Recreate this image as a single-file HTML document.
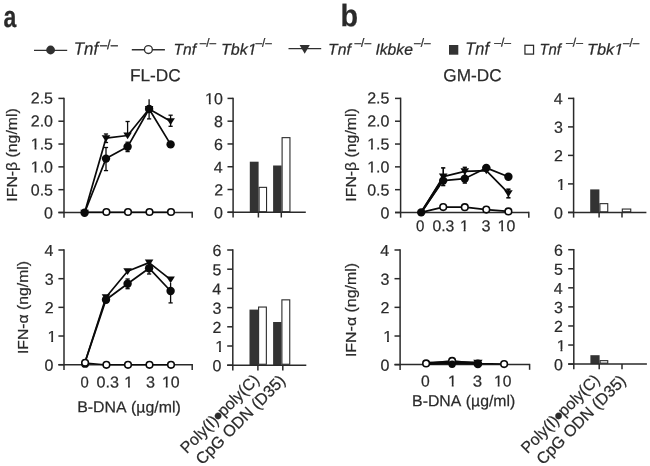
<!DOCTYPE html>
<html><head><meta charset="utf-8"><title>figure</title>
<style>
html,body{margin:0;padding:0;background:#fff;}
svg{display:block;will-change:transform;font-family:"Liberation Sans",sans-serif;font-kerning:none;}
</style></head><body>
<svg width="650" height="466" viewBox="0 0 650 466">
<rect width="650" height="466" fill="#fff"/>
<text transform="matrix(0.7689 0.001 0 1 3.62 27.00)" font-size="30" text-anchor="start" fill="#2a2a2a" stroke="#2a2a2a" stroke-width="0.22" font-weight="bold">a</text>
<text transform="matrix(0.9282 0.001 0 1 340.60 26.30)" font-size="31" text-anchor="start" fill="#2a2a2a" stroke="#2a2a2a" stroke-width="0.22" font-weight="bold">b</text>
<line x1="34.00" y1="50.30" x2="67.20" y2="50.30" stroke="#303030" stroke-width="1.35"/>
<circle cx="50.6" cy="50.0" r="4.4" fill="#303030"/>
<text transform="matrix(0.9404 0.001 0 1 73.78 54.85)" font-size="18" text-anchor="start" fill="#2a2a2a" stroke="#2a2a2a" stroke-width="0.22" font-style="italic">Tnf</text>
<text transform="matrix(0.9853 0.001 0 1 100.00 49.01)" font-size="13" text-anchor="start" fill="#2a2a2a" stroke="#2a2a2a" stroke-width="0.22">–/–</text>
<line x1="131.80" y1="49.70" x2="164.90" y2="49.70" stroke="#303030" stroke-width="1.35"/>
<circle cx="148.4" cy="49.5" r="3.95" fill="#fff" stroke="#303030" stroke-width="1.35"/>
<text transform="matrix(0.9880 0.001 0 1 173.50 54.65)" font-size="15.8" text-anchor="start" fill="#2a2a2a" stroke="#2a2a2a" stroke-width="0.22" font-style="italic">Tnf</text>
<text transform="matrix(0.9895 0.001 0 1 199.70 46.74)" font-size="12" text-anchor="start" fill="#2a2a2a" stroke="#2a2a2a" stroke-width="0.22">–/–</text>
<text transform="matrix(1.0156 0.001 0 1 221.06 54.65)" font-size="15.8" text-anchor="start" fill="#2a2a2a" stroke="#2a2a2a" stroke-width="0.22" font-style="italic">Tbk1</text>
<polygon points="247.02,56.27 247.62,52.57 251.20,52.57 250.60,56.27" fill="#fff"/>
<polygon points="253.12,52.57 256.57,52.57 255.97,56.27 252.52,56.27" fill="#fff"/>
<text transform="matrix(0.9835 0.001 0 1 255.40 46.74)" font-size="12" text-anchor="start" fill="#2a2a2a" stroke="#2a2a2a" stroke-width="0.22">–/–</text>
<line x1="288.50" y1="48.60" x2="321.20" y2="48.60" stroke="#303030" stroke-width="1.35"/>
<path d="M299.6 45.1H309.8L304.7 53.8Z" fill="#303030"/>
<text transform="matrix(0.9967 0.001 0 1 328.09 54.65)" font-size="15.8" text-anchor="start" fill="#2a2a2a" stroke="#2a2a2a" stroke-width="0.22" font-style="italic">Tnf</text>
<text transform="matrix(1.0074 0.001 0 1 354.40 46.74)" font-size="12" text-anchor="start" fill="#2a2a2a" stroke="#2a2a2a" stroke-width="0.22">–/–</text>
<text transform="matrix(0.9931 0.001 0 1 375.38 54.65)" font-size="15.8" text-anchor="start" fill="#2a2a2a" stroke="#2a2a2a" stroke-width="0.22" font-style="italic">Ikbke</text>
<text transform="matrix(0.9955 0.001 0 1 414.00 46.74)" font-size="12" text-anchor="start" fill="#2a2a2a" stroke="#2a2a2a" stroke-width="0.22">–/–</text>
<rect x="449.0" y="45.0" width="9.3" height="9.7" fill="#333333"/>
<text transform="matrix(0.9147 0.001 0 1 465.33 54.70)" font-size="17.9" text-anchor="start" fill="#2a2a2a" stroke="#2a2a2a" stroke-width="0.22" font-style="italic">Tnf</text>
<text transform="matrix(1.0134 0.001 0 1 494.20 46.54)" font-size="12" text-anchor="start" fill="#2a2a2a" stroke="#2a2a2a" stroke-width="0.22">–/–</text>
<rect x="524.95" y="45.3" width="8.6" height="8.8" fill="#fff" stroke="#2a2a2a" stroke-width="1.25"/>
<text transform="matrix(0.9440 0.001 0 1 539.46 54.65)" font-size="15.8" text-anchor="start" fill="#2a2a2a" stroke="#2a2a2a" stroke-width="0.22" font-style="italic">Tnf</text>
<text transform="matrix(1.0134 0.001 0 1 566.00 46.54)" font-size="12" text-anchor="start" fill="#2a2a2a" stroke="#2a2a2a" stroke-width="0.22">–/–</text>
<text transform="matrix(1.0377 0.001 0 1 586.93 54.65)" font-size="15.8" text-anchor="start" fill="#2a2a2a" stroke="#2a2a2a" stroke-width="0.22" font-style="italic">Tbk1</text>
<polygon points="613.46,56.27 614.07,52.57 617.72,52.57 617.11,56.27" fill="#fff"/>
<polygon points="619.69,52.57 623.22,52.57 622.60,56.27 619.08,56.27" fill="#fff"/>
<text transform="matrix(0.9775 0.001 0 1 622.90 46.74)" font-size="12" text-anchor="start" fill="#2a2a2a" stroke="#2a2a2a" stroke-width="0.22">–/–</text>
<text transform="matrix(0.9931 0.001 0 1 129.88 81.15)" font-size="17.4" text-anchor="start" fill="#2a2a2a" stroke="#2a2a2a" stroke-width="0.22">FL-DC</text>
<text transform="matrix(0.9836 0.001 0 1 443.33 81.15)" font-size="17.5" text-anchor="start" fill="#2a2a2a" stroke="#2a2a2a" stroke-width="0.22">GM-DC</text>
<line x1="64.00" y1="97.65" x2="64.00" y2="217.70" stroke="#2a2a2a" stroke-width="1.5"/>
<line x1="58.40" y1="212.50" x2="64.00" y2="212.50" stroke="#2a2a2a" stroke-width="1.5"/>
<text transform="matrix(1.0000 0.001 0 1 44.08 218.50)" font-size="16.0" text-anchor="start" fill="#2a2a2a" stroke="#2a2a2a" stroke-width="0.22">0</text>
<line x1="58.40" y1="189.68" x2="64.00" y2="189.68" stroke="#2a2a2a" stroke-width="1.5"/>
<text transform="matrix(1.0000 0.001 0 1 30.78 195.52)" font-size="16.0" text-anchor="start" fill="#2a2a2a" stroke="#2a2a2a" stroke-width="0.22">0.5</text>
<line x1="58.40" y1="166.86" x2="64.00" y2="166.86" stroke="#2a2a2a" stroke-width="1.5"/>
<text transform="matrix(1.0000 0.001 0 1 30.73 172.54)" font-size="16.0" text-anchor="start" fill="#2a2a2a" stroke="#2a2a2a" stroke-width="0.22">1.0</text>
<polygon points="30.95,174.16 30.95,170.44 34.51,170.44 34.51,174.16" fill="#fff"/>
<polygon points="36.42,170.44 39.85,170.44 39.85,174.16 36.42,174.16" fill="#fff"/>
<line x1="58.40" y1="144.04" x2="64.00" y2="144.04" stroke="#2a2a2a" stroke-width="1.5"/>
<text transform="matrix(1.0000 0.001 0 1 30.78 149.56)" font-size="16.0" text-anchor="start" fill="#2a2a2a" stroke="#2a2a2a" stroke-width="0.22">1.5</text>
<polygon points="31.00,151.18 31.00,147.46 34.55,147.46 34.55,151.18" fill="#fff"/>
<polygon points="36.47,147.46 39.90,147.46 39.90,151.18 36.47,151.18" fill="#fff"/>
<line x1="58.40" y1="121.22" x2="64.00" y2="121.22" stroke="#2a2a2a" stroke-width="1.5"/>
<text transform="matrix(1.0000 0.001 0 1 30.73 126.58)" font-size="16.0" text-anchor="start" fill="#2a2a2a" stroke="#2a2a2a" stroke-width="0.22">2.0</text>
<line x1="58.40" y1="98.40" x2="64.00" y2="98.40" stroke="#2a2a2a" stroke-width="1.5"/>
<text transform="matrix(1.0000 0.001 0 1 30.78 103.60)" font-size="16.0" text-anchor="start" fill="#2a2a2a" stroke="#2a2a2a" stroke-width="0.22">2.5</text>
<line x1="58.40" y1="212.50" x2="192.20" y2="212.50" stroke="#2a2a2a" stroke-width="1.5"/>
<line x1="192.20" y1="211.75" x2="192.20" y2="217.70" stroke="#2a2a2a" stroke-width="1.5"/>
<line x1="106.00" y1="147.50" x2="106.00" y2="170.60" stroke="#0a0a0a" stroke-width="1.3"/>
<line x1="103.90" y1="147.50" x2="108.10" y2="147.50" stroke="#0a0a0a" stroke-width="1.3"/>
<line x1="103.90" y1="170.60" x2="108.10" y2="170.60" stroke="#0a0a0a" stroke-width="1.3"/>
<line x1="106.00" y1="134.00" x2="106.00" y2="142.50" stroke="#0a0a0a" stroke-width="1.3"/>
<line x1="103.90" y1="134.00" x2="108.10" y2="134.00" stroke="#0a0a0a" stroke-width="1.3"/>
<line x1="103.90" y1="142.50" x2="108.10" y2="142.50" stroke="#0a0a0a" stroke-width="1.3"/>
<line x1="127.60" y1="121.50" x2="127.60" y2="135.00" stroke="#0a0a0a" stroke-width="1.3"/>
<line x1="125.50" y1="121.50" x2="129.70" y2="121.50" stroke="#0a0a0a" stroke-width="1.3"/>
<line x1="127.60" y1="142.20" x2="127.60" y2="151.60" stroke="#0a0a0a" stroke-width="1.3"/>
<line x1="125.50" y1="142.20" x2="129.70" y2="142.20" stroke="#0a0a0a" stroke-width="1.3"/>
<line x1="125.50" y1="151.60" x2="129.70" y2="151.60" stroke="#0a0a0a" stroke-width="1.3"/>
<line x1="149.10" y1="99.30" x2="149.10" y2="118.90" stroke="#0a0a0a" stroke-width="1.3"/>
<line x1="147.00" y1="118.90" x2="151.20" y2="118.90" stroke="#0a0a0a" stroke-width="1.3"/>
<line x1="170.60" y1="115.20" x2="170.60" y2="126.30" stroke="#0a0a0a" stroke-width="1.3"/>
<line x1="168.50" y1="115.20" x2="172.70" y2="115.20" stroke="#0a0a0a" stroke-width="1.3"/>
<line x1="168.50" y1="126.30" x2="172.70" y2="126.30" stroke="#0a0a0a" stroke-width="1.3"/>
<polyline points="84.60,212.80 106.00,138.20 127.60,135.50 149.10,109.00 170.60,121.20" fill="none" stroke="#0a0a0a" stroke-width="1.7" stroke-linejoin="round"/>
<polyline points="84.60,212.80 106.00,158.60 127.60,146.80 149.10,109.00 170.60,144.40" fill="none" stroke="#0a0a0a" stroke-width="1.7" stroke-linejoin="round"/>
<polyline points="84.60,212.30 171.00,212.30" fill="none" stroke="#0a0a0a" stroke-width="1.4" stroke-linejoin="round"/>
<path d="M80.30 209.74H88.90L84.60 216.54Z" fill="#0a0a0a"/>
<path d="M101.70 135.14H110.30L106.00 141.94Z" fill="#0a0a0a"/>
<path d="M123.30 132.44H131.90L127.60 139.24Z" fill="#0a0a0a"/>
<path d="M144.80 105.94H153.40L149.10 112.74Z" fill="#0a0a0a"/>
<path d="M166.30 118.14H174.90L170.60 124.94Z" fill="#0a0a0a"/>
<circle cx="84.60" cy="212.80" r="4.2" fill="#0a0a0a"/>
<circle cx="106.00" cy="158.60" r="4.2" fill="#0a0a0a"/>
<circle cx="127.60" cy="146.80" r="4.2" fill="#0a0a0a"/>
<circle cx="149.10" cy="109.00" r="4.2" fill="#0a0a0a"/>
<circle cx="170.60" cy="144.40" r="4.2" fill="#0a0a0a"/>
<circle cx="106.40" cy="212.00" r="3.3" fill="#fff" stroke="#0a0a0a" stroke-width="1.6"/>
<circle cx="128.00" cy="212.00" r="3.3" fill="#fff" stroke="#0a0a0a" stroke-width="1.6"/>
<circle cx="149.50" cy="212.00" r="3.3" fill="#fff" stroke="#0a0a0a" stroke-width="1.6"/>
<circle cx="171.00" cy="212.00" r="3.3" fill="#fff" stroke="#0a0a0a" stroke-width="1.6"/>
<text transform="translate(17.00,201.66) rotate(-90) scale(1.0544,1)" font-size="15.0" text-anchor="start" fill="#2a2a2a" stroke="#2a2a2a" stroke-width="0.22">IFN-β (ng/ml)</text>
<line x1="64.00" y1="249.25" x2="64.00" y2="369.90" stroke="#2a2a2a" stroke-width="1.5"/>
<line x1="58.40" y1="364.70" x2="64.00" y2="364.70" stroke="#2a2a2a" stroke-width="1.5"/>
<text transform="matrix(1.0000 0.001 0 1 44.58 370.70)" font-size="16.0" text-anchor="start" fill="#2a2a2a" stroke="#2a2a2a" stroke-width="0.22">0</text>
<line x1="58.40" y1="336.02" x2="64.00" y2="336.02" stroke="#2a2a2a" stroke-width="1.5"/>
<text transform="matrix(1.0000 0.001 0 1 47.41 342.02)" font-size="16.0" text-anchor="start" fill="#2a2a2a" stroke="#2a2a2a" stroke-width="0.22">1</text>
<polygon points="47.63,343.64 47.63,339.93 51.19,339.93 51.19,343.64" fill="#fff"/>
<polygon points="53.10,339.93 56.53,339.93 56.53,343.64 53.10,343.64" fill="#fff"/>
<line x1="58.40" y1="307.35" x2="64.00" y2="307.35" stroke="#2a2a2a" stroke-width="1.5"/>
<text transform="matrix(1.0000 0.001 0 1 44.76 313.35)" font-size="16.0" text-anchor="start" fill="#2a2a2a" stroke="#2a2a2a" stroke-width="0.22">2</text>
<line x1="58.40" y1="278.68" x2="64.00" y2="278.68" stroke="#2a2a2a" stroke-width="1.5"/>
<text transform="matrix(1.0000 0.001 0 1 44.65 284.68)" font-size="16.0" text-anchor="start" fill="#2a2a2a" stroke="#2a2a2a" stroke-width="0.22">3</text>
<line x1="58.40" y1="250.00" x2="64.00" y2="250.00" stroke="#2a2a2a" stroke-width="1.5"/>
<text transform="matrix(1.0000 0.001 0 1 44.42 256.00)" font-size="16.0" text-anchor="start" fill="#2a2a2a" stroke="#2a2a2a" stroke-width="0.22">4</text>
<line x1="58.40" y1="364.70" x2="192.20" y2="364.70" stroke="#2a2a2a" stroke-width="1.5"/>
<line x1="192.20" y1="363.95" x2="192.20" y2="369.90" stroke="#2a2a2a" stroke-width="1.5"/>
<line x1="127.60" y1="279.00" x2="127.60" y2="288.70" stroke="#0a0a0a" stroke-width="1.3"/>
<line x1="125.50" y1="279.00" x2="129.70" y2="279.00" stroke="#0a0a0a" stroke-width="1.3"/>
<line x1="125.50" y1="288.70" x2="129.70" y2="288.70" stroke="#0a0a0a" stroke-width="1.3"/>
<line x1="149.10" y1="262.00" x2="149.10" y2="274.00" stroke="#0a0a0a" stroke-width="1.3"/>
<line x1="147.00" y1="274.00" x2="151.20" y2="274.00" stroke="#0a0a0a" stroke-width="1.3"/>
<line x1="170.60" y1="283.00" x2="170.60" y2="302.90" stroke="#0a0a0a" stroke-width="1.3"/>
<line x1="168.50" y1="302.90" x2="172.70" y2="302.90" stroke="#0a0a0a" stroke-width="1.3"/>
<polyline points="84.60,363.40 106.00,297.20 127.60,271.30 149.10,262.60 170.60,279.60" fill="none" stroke="#0a0a0a" stroke-width="1.7" stroke-linejoin="round"/>
<polyline points="84.60,363.40 106.00,299.80 127.60,283.70 149.10,268.20 170.60,291.00" fill="none" stroke="#0a0a0a" stroke-width="1.7" stroke-linejoin="round"/>
<polyline points="85.10,362.90 104.00,364.80 171.00,364.80" fill="none" stroke="#0a0a0a" stroke-width="1.4" stroke-linejoin="round"/>
<path d="M101.70 294.14H110.30L106.00 300.94Z" fill="#0a0a0a"/>
<path d="M123.30 268.24H131.90L127.60 275.04Z" fill="#0a0a0a"/>
<path d="M144.80 259.54H153.40L149.10 266.34Z" fill="#0a0a0a"/>
<path d="M166.30 276.54H174.90L170.60 283.34Z" fill="#0a0a0a"/>
<circle cx="106.00" cy="299.80" r="4.2" fill="#0a0a0a"/>
<circle cx="127.60" cy="283.70" r="4.2" fill="#0a0a0a"/>
<circle cx="149.10" cy="268.20" r="4.2" fill="#0a0a0a"/>
<circle cx="170.60" cy="291.00" r="4.2" fill="#0a0a0a"/>
<circle cx="85.10" cy="363.90" r="3.9" fill="#0a0a0a"/>
<circle cx="85.10" cy="362.80" r="3.3" fill="#fff" stroke="#0a0a0a" stroke-width="1.6"/>
<circle cx="106.40" cy="364.80" r="3.3" fill="#fff" stroke="#0a0a0a" stroke-width="1.6"/>
<circle cx="128.00" cy="364.80" r="3.3" fill="#fff" stroke="#0a0a0a" stroke-width="1.6"/>
<circle cx="149.50" cy="364.80" r="3.3" fill="#fff" stroke="#0a0a0a" stroke-width="1.6"/>
<circle cx="171.00" cy="364.80" r="3.3" fill="#fff" stroke="#0a0a0a" stroke-width="1.6"/>
<text transform="translate(27.80,354.06) rotate(-90) scale(1.0730,1)" font-size="14.7" text-anchor="start" fill="#2a2a2a" stroke="#2a2a2a" stroke-width="0.22">IFN-α (ng/ml)</text>
<text transform="matrix(0.9400 0.001 0 1 80.52 387.55)" font-size="15.8" text-anchor="start" fill="#2a2a2a" stroke="#2a2a2a" stroke-width="0.22">0</text>
<text transform="matrix(1.0217 0.001 0 1 96.47 387.55)" font-size="15.8" text-anchor="start" fill="#2a2a2a" stroke="#2a2a2a" stroke-width="0.22">0.3</text>
<text transform="matrix(1.0000 0.001 0 1 124.33 387.55)" font-size="15.8" text-anchor="start" fill="#2a2a2a" stroke="#2a2a2a" stroke-width="0.22">1</text>
<polygon points="124.53,389.17 124.53,385.47 128.05,385.47 128.05,389.17" fill="#fff"/>
<polygon points="129.95,385.47 133.35,385.47 133.35,389.17 129.95,389.17" fill="#fff"/>
<text transform="matrix(1.0279 0.001 0 1 145.88 387.55)" font-size="15.8" text-anchor="start" fill="#2a2a2a" stroke="#2a2a2a" stroke-width="0.22">3</text>
<text transform="matrix(1.0105 0.001 0 1 161.96 387.55)" font-size="15.8" text-anchor="start" fill="#2a2a2a" stroke="#2a2a2a" stroke-width="0.22">10</text>
<polygon points="162.17,389.17 162.17,385.47 165.73,385.47 165.73,389.17" fill="#fff"/>
<polygon points="167.64,385.47 171.07,385.47 171.07,389.17 167.64,389.17" fill="#fff"/>
<text transform="matrix(0.9929 0.001 0 1 77.20 412.35)" font-size="16.0" text-anchor="start" fill="#2a2a2a" stroke="#2a2a2a" stroke-width="0.22">B-DNA (µg/ml)</text>
<rect x="259.10" y="187.35" width="7.45" height="24.40" fill="#fff" stroke="#2a2a2a" stroke-width="1.1"/>
<rect x="282.10" y="137.65" width="7.85" height="74.10" fill="#fff" stroke="#2a2a2a" stroke-width="1.1"/>
<rect x="249.80" y="161.70" width="8.80" height="50.60" fill="#333333"/>
<rect x="273.10" y="165.50" width="8.50" height="46.80" fill="#333333"/>
<line x1="233.10" y1="97.65" x2="233.10" y2="217.50" stroke="#2a2a2a" stroke-width="1.5"/>
<line x1="227.50" y1="212.30" x2="233.10" y2="212.30" stroke="#2a2a2a" stroke-width="1.5"/>
<text transform="matrix(1.0000 0.001 0 1 213.98 218.30)" font-size="16.0" text-anchor="start" fill="#2a2a2a" stroke="#2a2a2a" stroke-width="0.22">0</text>
<line x1="227.50" y1="189.52" x2="233.10" y2="189.52" stroke="#2a2a2a" stroke-width="1.5"/>
<text transform="matrix(1.0000 0.001 0 1 214.16 195.50)" font-size="16.0" text-anchor="start" fill="#2a2a2a" stroke="#2a2a2a" stroke-width="0.22">2</text>
<line x1="227.50" y1="166.74" x2="233.10" y2="166.74" stroke="#2a2a2a" stroke-width="1.5"/>
<text transform="matrix(1.0000 0.001 0 1 213.82 172.70)" font-size="16.0" text-anchor="start" fill="#2a2a2a" stroke="#2a2a2a" stroke-width="0.22">4</text>
<line x1="227.50" y1="143.96" x2="233.10" y2="143.96" stroke="#2a2a2a" stroke-width="1.5"/>
<text transform="matrix(1.0000 0.001 0 1 214.05 149.90)" font-size="16.0" text-anchor="start" fill="#2a2a2a" stroke="#2a2a2a" stroke-width="0.22">6</text>
<line x1="227.50" y1="121.18" x2="233.10" y2="121.18" stroke="#2a2a2a" stroke-width="1.5"/>
<text transform="matrix(1.0000 0.001 0 1 214.05 127.10)" font-size="16.0" text-anchor="start" fill="#2a2a2a" stroke="#2a2a2a" stroke-width="0.22">8</text>
<line x1="227.50" y1="98.40" x2="233.10" y2="98.40" stroke="#2a2a2a" stroke-width="1.5"/>
<text transform="matrix(1.0000 0.001 0 1 205.08 104.30)" font-size="16.0" text-anchor="start" fill="#2a2a2a" stroke="#2a2a2a" stroke-width="0.22">10</text>
<polygon points="205.30,105.92 205.30,102.20 208.85,102.20 208.85,105.92" fill="#fff"/>
<polygon points="210.77,102.20 214.20,102.20 214.20,105.92 210.77,105.92" fill="#fff"/>
<line x1="227.50" y1="212.30" x2="305.80" y2="212.30" stroke="#2a2a2a" stroke-width="1.5"/>
<line x1="258.40" y1="212.30" x2="258.40" y2="217.50" stroke="#2a2a2a" stroke-width="1.5"/>
<line x1="281.30" y1="212.30" x2="281.30" y2="217.50" stroke="#2a2a2a" stroke-width="1.5"/>
<rect x="258.60" y="307.05" width="7.75" height="57.20" fill="#fff" stroke="#2a2a2a" stroke-width="1.1"/>
<rect x="281.90" y="299.85" width="7.85" height="64.40" fill="#fff" stroke="#2a2a2a" stroke-width="1.1"/>
<rect x="249.50" y="309.60" width="8.60" height="55.60" fill="#333333"/>
<rect x="273.10" y="322.00" width="8.30" height="43.20" fill="#333333"/>
<line x1="232.80" y1="249.25" x2="232.80" y2="370.40" stroke="#2a2a2a" stroke-width="1.5"/>
<line x1="227.20" y1="365.20" x2="232.80" y2="365.20" stroke="#2a2a2a" stroke-width="1.5"/>
<text transform="matrix(1.0000 0.001 0 1 212.38 371.30)" font-size="16.0" text-anchor="start" fill="#2a2a2a" stroke="#2a2a2a" stroke-width="0.22">0</text>
<line x1="227.20" y1="346.00" x2="232.80" y2="346.00" stroke="#2a2a2a" stroke-width="1.5"/>
<text transform="matrix(1.0000 0.001 0 1 215.21 352.10)" font-size="16.0" text-anchor="start" fill="#2a2a2a" stroke="#2a2a2a" stroke-width="0.22">1</text>
<polygon points="215.43,353.72 215.43,350.00 218.99,350.00 218.99,353.72" fill="#fff"/>
<polygon points="220.90,350.00 224.33,350.00 224.33,353.72 220.90,353.72" fill="#fff"/>
<line x1="227.20" y1="326.80" x2="232.80" y2="326.80" stroke="#2a2a2a" stroke-width="1.5"/>
<text transform="matrix(1.0000 0.001 0 1 212.56 332.90)" font-size="16.0" text-anchor="start" fill="#2a2a2a" stroke="#2a2a2a" stroke-width="0.22">2</text>
<line x1="227.20" y1="307.60" x2="232.80" y2="307.60" stroke="#2a2a2a" stroke-width="1.5"/>
<text transform="matrix(1.0000 0.001 0 1 212.45 313.70)" font-size="16.0" text-anchor="start" fill="#2a2a2a" stroke="#2a2a2a" stroke-width="0.22">3</text>
<line x1="227.20" y1="288.40" x2="232.80" y2="288.40" stroke="#2a2a2a" stroke-width="1.5"/>
<text transform="matrix(1.0000 0.001 0 1 212.22 294.50)" font-size="16.0" text-anchor="start" fill="#2a2a2a" stroke="#2a2a2a" stroke-width="0.22">4</text>
<line x1="227.20" y1="269.20" x2="232.80" y2="269.20" stroke="#2a2a2a" stroke-width="1.5"/>
<text transform="matrix(1.0000 0.001 0 1 212.42 275.30)" font-size="16.0" text-anchor="start" fill="#2a2a2a" stroke="#2a2a2a" stroke-width="0.22">5</text>
<line x1="227.20" y1="250.00" x2="232.80" y2="250.00" stroke="#2a2a2a" stroke-width="1.5"/>
<text transform="matrix(1.0000 0.001 0 1 212.45 256.10)" font-size="16.0" text-anchor="start" fill="#2a2a2a" stroke="#2a2a2a" stroke-width="0.22">6</text>
<line x1="227.20" y1="365.20" x2="306.30" y2="365.20" stroke="#2a2a2a" stroke-width="1.5"/>
<line x1="257.90" y1="365.20" x2="257.90" y2="370.40" stroke="#2a2a2a" stroke-width="1.5"/>
<line x1="282.80" y1="365.20" x2="282.80" y2="370.40" stroke="#2a2a2a" stroke-width="1.5"/>
<text transform="translate(260.20,380.90) rotate(-45)" font-size="16" text-anchor="end" fill="#2a2a2a" stroke="#2a2a2a" stroke-width="0.22">Poly(I)<tspan font-size="24" dy="3" dx="-1.2">•</tspan><tspan dy="-3" dx="-1.2">poly(C)</tspan></text>
<text transform="translate(286.30,381.60) rotate(-45)" font-size="16.2" text-anchor="end" fill="#2a2a2a" stroke="#2a2a2a" stroke-width="0.22">CpG ODN (D35)</text>
<rect x="599.90" y="203.65" width="7.85" height="8.20" fill="#fff" stroke="#2a2a2a" stroke-width="1.1"/>
<rect x="622.30" y="209.05" width="8.45" height="2.80" fill="#fff" stroke="#2a2a2a" stroke-width="1.1"/>
<rect x="590.20" y="189.40" width="9.20" height="23.00" fill="#333333"/>
<line x1="573.60" y1="97.65" x2="573.60" y2="217.60" stroke="#2a2a2a" stroke-width="1.5"/>
<line x1="568.00" y1="212.40" x2="573.60" y2="212.40" stroke="#2a2a2a" stroke-width="1.5"/>
<text transform="matrix(1.0000 0.001 0 1 553.88 218.40)" font-size="16.0" text-anchor="start" fill="#2a2a2a" stroke="#2a2a2a" stroke-width="0.22">0</text>
<line x1="568.00" y1="183.90" x2="573.60" y2="183.90" stroke="#2a2a2a" stroke-width="1.5"/>
<text transform="matrix(1.0000 0.001 0 1 556.71 189.88)" font-size="16.0" text-anchor="start" fill="#2a2a2a" stroke="#2a2a2a" stroke-width="0.22">1</text>
<polygon points="556.93,191.50 556.93,187.78 560.49,187.78 560.49,191.50" fill="#fff"/>
<polygon points="562.40,187.78 565.83,187.78 565.83,191.50 562.40,191.50" fill="#fff"/>
<line x1="568.00" y1="155.40" x2="573.60" y2="155.40" stroke="#2a2a2a" stroke-width="1.5"/>
<text transform="matrix(1.0000 0.001 0 1 554.06 161.35)" font-size="16.0" text-anchor="start" fill="#2a2a2a" stroke="#2a2a2a" stroke-width="0.22">2</text>
<line x1="568.00" y1="126.90" x2="573.60" y2="126.90" stroke="#2a2a2a" stroke-width="1.5"/>
<text transform="matrix(1.0000 0.001 0 1 553.95 132.83)" font-size="16.0" text-anchor="start" fill="#2a2a2a" stroke="#2a2a2a" stroke-width="0.22">3</text>
<line x1="568.00" y1="98.40" x2="573.60" y2="98.40" stroke="#2a2a2a" stroke-width="1.5"/>
<text transform="matrix(1.0000 0.001 0 1 553.72 104.30)" font-size="16.0" text-anchor="start" fill="#2a2a2a" stroke="#2a2a2a" stroke-width="0.22">4</text>
<line x1="568.00" y1="212.40" x2="646.40" y2="212.40" stroke="#2a2a2a" stroke-width="1.5"/>
<line x1="599.10" y1="212.40" x2="599.10" y2="217.60" stroke="#2a2a2a" stroke-width="1.5"/>
<line x1="622.00" y1="212.40" x2="622.00" y2="217.60" stroke="#2a2a2a" stroke-width="1.5"/>
<rect x="600.10" y="360.65" width="7.65" height="2.50" fill="#fff" stroke="#2a2a2a" stroke-width="1.1"/>
<rect x="590.40" y="355.20" width="9.20" height="8.90" fill="#333333"/>
<line x1="573.80" y1="248.95" x2="573.80" y2="369.30" stroke="#2a2a2a" stroke-width="1.5"/>
<line x1="568.20" y1="364.10" x2="573.80" y2="364.10" stroke="#2a2a2a" stroke-width="1.5"/>
<text transform="matrix(1.0000 0.001 0 1 553.88 370.20)" font-size="16.0" text-anchor="start" fill="#2a2a2a" stroke="#2a2a2a" stroke-width="0.22">0</text>
<line x1="568.20" y1="345.03" x2="573.80" y2="345.03" stroke="#2a2a2a" stroke-width="1.5"/>
<text transform="matrix(1.0000 0.001 0 1 556.71 351.13)" font-size="16.0" text-anchor="start" fill="#2a2a2a" stroke="#2a2a2a" stroke-width="0.22">1</text>
<polygon points="556.93,352.75 556.93,349.04 560.49,349.04 560.49,352.75" fill="#fff"/>
<polygon points="562.40,349.04 565.83,349.04 565.83,352.75 562.40,352.75" fill="#fff"/>
<line x1="568.20" y1="325.97" x2="573.80" y2="325.97" stroke="#2a2a2a" stroke-width="1.5"/>
<text transform="matrix(1.0000 0.001 0 1 554.06 332.07)" font-size="16.0" text-anchor="start" fill="#2a2a2a" stroke="#2a2a2a" stroke-width="0.22">2</text>
<line x1="568.20" y1="306.90" x2="573.80" y2="306.90" stroke="#2a2a2a" stroke-width="1.5"/>
<text transform="matrix(1.0000 0.001 0 1 553.95 313.00)" font-size="16.0" text-anchor="start" fill="#2a2a2a" stroke="#2a2a2a" stroke-width="0.22">3</text>
<line x1="568.20" y1="287.83" x2="573.80" y2="287.83" stroke="#2a2a2a" stroke-width="1.5"/>
<text transform="matrix(1.0000 0.001 0 1 553.72 293.93)" font-size="16.0" text-anchor="start" fill="#2a2a2a" stroke="#2a2a2a" stroke-width="0.22">4</text>
<line x1="568.20" y1="268.77" x2="573.80" y2="268.77" stroke="#2a2a2a" stroke-width="1.5"/>
<text transform="matrix(1.0000 0.001 0 1 553.92 274.87)" font-size="16.0" text-anchor="start" fill="#2a2a2a" stroke="#2a2a2a" stroke-width="0.22">5</text>
<line x1="568.20" y1="249.70" x2="573.80" y2="249.70" stroke="#2a2a2a" stroke-width="1.5"/>
<text transform="matrix(1.0000 0.001 0 1 553.95 255.80)" font-size="16.0" text-anchor="start" fill="#2a2a2a" stroke="#2a2a2a" stroke-width="0.22">6</text>
<line x1="568.20" y1="364.10" x2="646.90" y2="364.10" stroke="#2a2a2a" stroke-width="1.5"/>
<line x1="599.20" y1="364.10" x2="599.20" y2="369.30" stroke="#2a2a2a" stroke-width="1.5"/>
<line x1="622.00" y1="364.10" x2="622.00" y2="369.30" stroke="#2a2a2a" stroke-width="1.5"/>
<text transform="translate(600.80,380.90) rotate(-45)" font-size="16" text-anchor="end" fill="#2a2a2a" stroke="#2a2a2a" stroke-width="0.22">Poly(I)<tspan font-size="24" dy="3" dx="-1.2">•</tspan><tspan dy="-3" dx="-1.2">poly(C)</tspan></text>
<text transform="translate(626.90,381.60) rotate(-45)" font-size="16.2" text-anchor="end" fill="#2a2a2a" stroke="#2a2a2a" stroke-width="0.22">CpG ODN (D35)</text>
<line x1="400.60" y1="97.65" x2="400.60" y2="217.70" stroke="#2a2a2a" stroke-width="1.5"/>
<line x1="395.00" y1="212.50" x2="400.60" y2="212.50" stroke="#2a2a2a" stroke-width="1.5"/>
<text transform="matrix(1.0000 0.001 0 1 380.48 218.50)" font-size="16.0" text-anchor="start" fill="#2a2a2a" stroke="#2a2a2a" stroke-width="0.22">0</text>
<line x1="395.00" y1="189.68" x2="400.60" y2="189.68" stroke="#2a2a2a" stroke-width="1.5"/>
<text transform="matrix(1.0000 0.001 0 1 367.18 195.52)" font-size="16.0" text-anchor="start" fill="#2a2a2a" stroke="#2a2a2a" stroke-width="0.22">0.5</text>
<line x1="395.00" y1="166.86" x2="400.60" y2="166.86" stroke="#2a2a2a" stroke-width="1.5"/>
<text transform="matrix(1.0000 0.001 0 1 367.13 172.54)" font-size="16.0" text-anchor="start" fill="#2a2a2a" stroke="#2a2a2a" stroke-width="0.22">1.0</text>
<polygon points="367.35,174.16 367.35,170.44 370.91,170.44 370.91,174.16" fill="#fff"/>
<polygon points="372.82,170.44 376.25,170.44 376.25,174.16 372.82,174.16" fill="#fff"/>
<line x1="395.00" y1="144.04" x2="400.60" y2="144.04" stroke="#2a2a2a" stroke-width="1.5"/>
<text transform="matrix(1.0000 0.001 0 1 367.18 149.56)" font-size="16.0" text-anchor="start" fill="#2a2a2a" stroke="#2a2a2a" stroke-width="0.22">1.5</text>
<polygon points="367.40,151.18 367.40,147.46 370.95,147.46 370.95,151.18" fill="#fff"/>
<polygon points="372.87,147.46 376.30,147.46 376.30,151.18 372.87,151.18" fill="#fff"/>
<line x1="395.00" y1="121.22" x2="400.60" y2="121.22" stroke="#2a2a2a" stroke-width="1.5"/>
<text transform="matrix(1.0000 0.001 0 1 367.13 126.58)" font-size="16.0" text-anchor="start" fill="#2a2a2a" stroke="#2a2a2a" stroke-width="0.22">2.0</text>
<line x1="395.00" y1="98.40" x2="400.60" y2="98.40" stroke="#2a2a2a" stroke-width="1.5"/>
<text transform="matrix(1.0000 0.001 0 1 367.18 103.60)" font-size="16.0" text-anchor="start" fill="#2a2a2a" stroke="#2a2a2a" stroke-width="0.22">2.5</text>
<line x1="395.00" y1="212.50" x2="528.80" y2="212.50" stroke="#2a2a2a" stroke-width="1.5"/>
<line x1="528.80" y1="211.75" x2="528.80" y2="217.70" stroke="#2a2a2a" stroke-width="1.5"/>
<line x1="443.20" y1="167.90" x2="443.20" y2="185.50" stroke="#0a0a0a" stroke-width="1.6"/>
<line x1="441.10" y1="167.90" x2="445.30" y2="167.90" stroke="#0a0a0a" stroke-width="1.6"/>
<line x1="441.10" y1="185.50" x2="445.30" y2="185.50" stroke="#0a0a0a" stroke-width="1.6"/>
<line x1="464.80" y1="167.40" x2="464.80" y2="183.00" stroke="#0a0a0a" stroke-width="1.6"/>
<line x1="462.70" y1="167.40" x2="466.90" y2="167.40" stroke="#0a0a0a" stroke-width="1.6"/>
<line x1="462.70" y1="183.00" x2="466.90" y2="183.00" stroke="#0a0a0a" stroke-width="1.6"/>
<line x1="508.40" y1="189.20" x2="508.40" y2="197.80" stroke="#0a0a0a" stroke-width="1.6"/>
<line x1="506.30" y1="189.20" x2="510.50" y2="189.20" stroke="#0a0a0a" stroke-width="1.6"/>
<line x1="506.30" y1="197.80" x2="510.50" y2="197.80" stroke="#0a0a0a" stroke-width="1.6"/>
<polyline points="421.20,212.40 443.20,176.60 464.80,171.40 486.30,170.60 508.40,193.20" fill="none" stroke="#0a0a0a" stroke-width="1.7" stroke-linejoin="round"/>
<polyline points="421.20,212.40 443.20,180.60 464.80,178.60 486.30,167.90 508.40,176.80" fill="none" stroke="#0a0a0a" stroke-width="1.7" stroke-linejoin="round"/>
<polyline points="421.20,212.40 443.20,207.10 464.80,207.20 486.30,209.60 508.40,211.40" fill="none" stroke="#0a0a0a" stroke-width="1.7" stroke-linejoin="round"/>
<polyline points="421.20,212.40 443.20,178.60" fill="none" stroke="#0a0a0a" stroke-width="2.4" stroke-linejoin="round"/>
<path d="M438.90 173.54H447.50L443.20 180.34Z" fill="#0a0a0a"/>
<path d="M460.50 168.34H469.10L464.80 175.14Z" fill="#0a0a0a"/>
<path d="M482.00 167.54H490.60L486.30 174.34Z" fill="#0a0a0a"/>
<path d="M504.10 190.14H512.70L508.40 196.94Z" fill="#0a0a0a"/>
<circle cx="421.20" cy="212.40" r="4.2" fill="#0a0a0a"/>
<circle cx="443.20" cy="180.60" r="4.2" fill="#0a0a0a"/>
<circle cx="464.80" cy="178.60" r="4.2" fill="#0a0a0a"/>
<circle cx="486.30" cy="167.90" r="4.2" fill="#0a0a0a"/>
<circle cx="508.40" cy="176.80" r="4.2" fill="#0a0a0a"/>
<circle cx="443.20" cy="207.10" r="3.3" fill="#fff" stroke="#0a0a0a" stroke-width="1.6"/>
<circle cx="464.80" cy="207.20" r="3.3" fill="#fff" stroke="#0a0a0a" stroke-width="1.6"/>
<circle cx="486.30" cy="209.60" r="3.3" fill="#fff" stroke="#0a0a0a" stroke-width="1.6"/>
<circle cx="508.40" cy="211.40" r="3.3" fill="#fff" stroke="#0a0a0a" stroke-width="1.6"/>
<text transform="matrix(0.9533 0.001 0 1 415.91 231.25)" font-size="15.8" text-anchor="start" fill="#2a2a2a" stroke="#2a2a2a" stroke-width="0.22">0</text>
<text transform="matrix(0.9975 0.001 0 1 432.48 231.25)" font-size="15.8" text-anchor="start" fill="#2a2a2a" stroke="#2a2a2a" stroke-width="0.22">0.3</text>
<text transform="matrix(1.0000 0.001 0 1 459.93 231.25)" font-size="15.8" text-anchor="start" fill="#2a2a2a" stroke="#2a2a2a" stroke-width="0.22">1</text>
<polygon points="460.13,232.87 460.13,229.17 463.65,229.17 463.65,232.87" fill="#fff"/>
<polygon points="465.55,229.17 468.95,229.17 468.95,232.87 465.55,232.87" fill="#fff"/>
<text transform="matrix(1.0279 0.001 0 1 481.38 231.25)" font-size="15.8" text-anchor="start" fill="#2a2a2a" stroke="#2a2a2a" stroke-width="0.22">3</text>
<text transform="matrix(1.0041 0.001 0 1 497.57 231.25)" font-size="15.8" text-anchor="start" fill="#2a2a2a" stroke="#2a2a2a" stroke-width="0.22">10</text>
<polygon points="497.78,232.87 497.78,229.17 501.31,229.17 501.31,232.87" fill="#fff"/>
<polygon points="503.22,229.17 506.63,229.17 506.63,232.87 503.22,232.87" fill="#fff"/>
<text transform="translate(355.60,201.66) rotate(-90) scale(1.0544,1)" font-size="15.0" text-anchor="start" fill="#2a2a2a" stroke="#2a2a2a" stroke-width="0.22">IFN-β (ng/ml)</text>
<line x1="400.10" y1="249.25" x2="400.10" y2="369.90" stroke="#2a2a2a" stroke-width="1.5"/>
<line x1="394.50" y1="364.70" x2="400.10" y2="364.70" stroke="#2a2a2a" stroke-width="1.5"/>
<text transform="matrix(1.0000 0.001 0 1 380.38 370.70)" font-size="16.0" text-anchor="start" fill="#2a2a2a" stroke="#2a2a2a" stroke-width="0.22">0</text>
<line x1="394.50" y1="336.02" x2="400.10" y2="336.02" stroke="#2a2a2a" stroke-width="1.5"/>
<text transform="matrix(1.0000 0.001 0 1 383.21 342.02)" font-size="16.0" text-anchor="start" fill="#2a2a2a" stroke="#2a2a2a" stroke-width="0.22">1</text>
<polygon points="383.43,343.64 383.43,339.93 386.99,339.93 386.99,343.64" fill="#fff"/>
<polygon points="388.90,339.93 392.33,339.93 392.33,343.64 388.90,343.64" fill="#fff"/>
<line x1="394.50" y1="307.35" x2="400.10" y2="307.35" stroke="#2a2a2a" stroke-width="1.5"/>
<text transform="matrix(1.0000 0.001 0 1 380.56 313.35)" font-size="16.0" text-anchor="start" fill="#2a2a2a" stroke="#2a2a2a" stroke-width="0.22">2</text>
<line x1="394.50" y1="278.68" x2="400.10" y2="278.68" stroke="#2a2a2a" stroke-width="1.5"/>
<text transform="matrix(1.0000 0.001 0 1 380.45 284.68)" font-size="16.0" text-anchor="start" fill="#2a2a2a" stroke="#2a2a2a" stroke-width="0.22">3</text>
<line x1="394.50" y1="250.00" x2="400.10" y2="250.00" stroke="#2a2a2a" stroke-width="1.5"/>
<text transform="matrix(1.0000 0.001 0 1 380.22 256.00)" font-size="16.0" text-anchor="start" fill="#2a2a2a" stroke="#2a2a2a" stroke-width="0.22">4</text>
<line x1="394.50" y1="364.60" x2="529.60" y2="364.60" stroke="#2a2a2a" stroke-width="1.5"/>
<line x1="529.60" y1="363.85" x2="529.60" y2="369.80" stroke="#2a2a2a" stroke-width="1.5"/>
<polyline points="426.10,363.40 452.10,362.60 477.90,363.20" fill="none" stroke="#0a0a0a" stroke-width="3.2" stroke-linejoin="round"/>
<polyline points="426.10,363.40 452.10,360.70 477.90,363.60 504.10,364.10" fill="none" stroke="#0a0a0a" stroke-width="1.5" stroke-linejoin="round"/>
<circle cx="452.10" cy="360.90" r="3.3" fill="#fff" stroke="#0a0a0a" stroke-width="1.6"/>
<circle cx="452.10" cy="364.30" r="3.7" fill="#0a0a0a"/>
<circle cx="477.90" cy="363.80" r="4.4" fill="#0a0a0a"/>
<path d="M473.20 359.72H482.60L477.90 366.12Z" fill="#0a0a0a"/>
<circle cx="426.10" cy="363.40" r="3.3" fill="#fff" stroke="#0a0a0a" stroke-width="1.6"/>
<circle cx="504.10" cy="364.10" r="3.3" fill="#fff" stroke="#0a0a0a" stroke-width="1.6"/>
<text transform="matrix(0.9930 0.001 0 1 421.09 386.45)" font-size="15.8" text-anchor="start" fill="#2a2a2a" stroke="#2a2a2a" stroke-width="0.22">0</text>
<text transform="matrix(1.0000 0.001 0 1 448.03 386.45)" font-size="15.8" text-anchor="start" fill="#2a2a2a" stroke="#2a2a2a" stroke-width="0.22">1</text>
<polygon points="448.23,388.07 448.23,384.37 451.75,384.37 451.75,388.07" fill="#fff"/>
<polygon points="453.65,384.37 457.05,384.37 457.05,388.07 453.65,388.07" fill="#fff"/>
<text transform="matrix(1.0679 0.001 0 1 472.86 386.45)" font-size="15.8" text-anchor="start" fill="#2a2a2a" stroke="#2a2a2a" stroke-width="0.22">3</text>
<text transform="matrix(0.9911 0.001 0 1 493.99 386.45)" font-size="15.8" text-anchor="start" fill="#2a2a2a" stroke="#2a2a2a" stroke-width="0.22">10</text>
<polygon points="494.20,388.07 494.20,384.37 497.68,384.37 497.68,388.07" fill="#fff"/>
<polygon points="499.56,384.37 502.93,384.37 502.93,388.07 499.56,388.07" fill="#fff"/>
<text transform="matrix(0.9962 0.001 0 1 412.10 406.15)" font-size="15.9" text-anchor="start" fill="#2a2a2a" stroke="#2a2a2a" stroke-width="0.22">B-DNA (µg/ml)</text>
<text transform="translate(355.50,357.07) rotate(-90) scale(1.0631,1)" font-size="15.0" text-anchor="start" fill="#2a2a2a" stroke="#2a2a2a" stroke-width="0.22">IFN-α (ng/ml)</text>
</svg>
</body></html>
